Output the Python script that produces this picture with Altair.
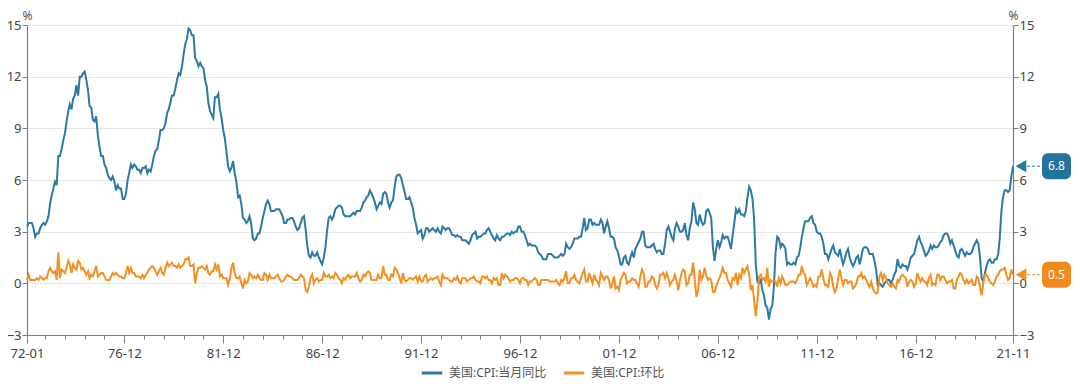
import altair as alt
import pandas as pd

# US CPI year-on-year (%), monthly 1972-01 .. 2021-11
yoy = [
    3.3, 3.5, 3.5, 3.5, 3.2, 2.7, 2.9, 2.9, 3.2, 3.4, 3.5, 3.4,
    3.6, 3.9, 4.6, 5.1, 5.5, 5.9, 5.7, 7.4, 7.4, 7.8, 8.3, 8.7,
    9.4, 10.0, 10.4, 10.1, 10.7, 10.9, 11.5, 10.9, 12.0, 12.0, 12.2, 12.3,
    11.8, 11.2, 10.3, 10.2, 9.5, 9.4, 9.7, 8.6, 7.9, 7.4, 7.4, 6.9,
    6.7, 6.3, 6.1, 6.0, 6.2, 5.9, 5.4, 5.7, 5.5, 5.5, 4.9, 4.9,
    5.2, 6.0, 6.4, 6.9, 6.7, 6.9, 6.8, 6.6, 6.6, 6.4, 6.7, 6.7,
    6.8, 6.4, 6.6, 6.5, 6.9, 7.4, 7.7, 7.8, 8.3, 8.9, 8.9, 9.0,
    9.3, 9.9, 10.1, 10.5, 10.9, 10.9, 11.3, 11.8, 12.2, 12.1, 12.6, 13.3,
    13.9, 14.2, 14.8, 14.7, 14.4, 14.4, 13.1, 12.9, 12.6, 12.8, 12.6, 12.5,
    11.8, 11.4, 10.5, 10.0, 9.8, 9.6, 10.8, 10.8, 11.0, 10.1, 9.6, 8.9,
    8.4, 7.6, 6.8, 6.5, 6.7, 7.1, 6.4, 5.9, 5.0, 5.1, 4.6, 3.8,
    3.7, 3.5, 3.6, 3.9, 3.5, 2.6, 2.5, 2.6, 2.9, 2.9, 3.3, 3.8,
    4.2, 4.6, 4.8, 4.6, 4.2, 4.2, 4.2, 4.3, 4.3, 4.3, 4.1, 3.9,
    3.5, 3.5, 3.7, 3.7, 3.8, 3.8, 3.6, 3.3, 3.1, 3.2, 3.5, 3.8,
    3.9, 3.1, 2.2, 1.6, 1.5, 1.8, 1.6, 1.6, 1.8, 1.5, 1.3, 1.1,
    1.5, 2.1, 3.0, 3.8, 3.9, 3.7, 3.9, 4.3, 4.4, 4.5, 4.5, 4.4,
    4.0, 3.9, 3.9, 3.9, 3.9, 4.0, 4.1, 4.0, 4.2, 4.2, 4.2, 4.4,
    4.7, 4.8, 5.0, 5.1, 5.4, 5.2, 5.0, 4.7, 4.3, 4.5, 4.7, 4.6,
    5.2, 5.3, 5.2, 4.7, 4.4, 4.7, 4.8, 5.6, 6.2, 6.3, 6.3, 6.1,
    5.7, 5.3, 4.9, 4.9, 5.0, 4.7, 4.4, 3.8, 3.4, 2.9, 3.0, 3.1,
    2.6, 2.8, 3.2, 3.2, 3.0, 3.1, 3.2, 3.1, 3.0, 3.2, 3.0, 2.9,
    3.3, 3.2, 3.1, 3.2, 3.2, 3.0, 2.8, 2.8, 2.7, 2.8, 2.7, 2.7,
    2.5, 2.5, 2.5, 2.4, 2.3, 2.5, 2.8, 2.9, 3.0, 2.6, 2.7, 2.7,
    2.8, 2.9, 2.9, 3.1, 3.2, 3.0, 2.8, 2.6, 2.5, 2.8, 2.6, 2.5,
    2.7, 2.7, 2.8, 2.9, 2.9, 2.8, 3.0, 2.9, 3.0, 3.0, 3.3, 3.3,
    3.0, 3.0, 2.8, 2.5, 2.2, 2.3, 2.2, 2.2, 2.2, 2.1, 1.8, 1.7,
    1.6, 1.4, 1.4, 1.4, 1.7, 1.7, 1.7, 1.6, 1.5, 1.5, 1.5, 1.6,
    1.7, 1.6, 1.7, 2.3, 2.1, 2.0, 2.1, 2.3, 2.6, 2.6, 2.6, 2.7,
    2.7, 3.2, 3.8, 3.1, 3.2, 3.7, 3.7, 3.4, 3.5, 3.4, 3.4, 3.4,
    3.7, 3.5, 2.9, 3.3, 3.6, 3.2, 2.7, 2.7, 2.6, 2.1, 1.9, 1.6,
    1.1, 1.1, 1.5, 1.6, 1.2, 1.1, 1.5, 1.8, 1.5, 2.0, 2.2, 2.4,
    2.6, 3.0, 3.0, 2.2, 2.1, 2.1, 2.1, 2.2, 2.3, 2.0, 1.8, 1.9,
    1.9, 1.7, 1.7, 2.3, 3.1, 3.3, 3.0, 2.7, 2.5, 3.2, 3.5, 3.3,
    3.0, 3.0, 3.1, 3.5, 2.8, 2.5, 3.2, 3.6, 4.7, 4.3, 3.5, 3.4,
    4.0, 3.6, 3.4, 3.5, 4.2, 4.3, 4.1, 3.8, 2.1, 1.3, 2.0, 2.5,
    2.1, 2.4, 2.8, 2.6, 2.7, 2.7, 2.4, 2.0, 2.8, 3.5, 4.3, 4.1,
    4.3, 4.0, 4.0, 3.9, 4.2, 5.0, 5.6, 5.4, 4.9, 3.7, 1.1, 0.1,
    0.0, 0.2, -0.4, -0.7, -1.3, -1.4, -2.1, -1.5, -1.3, -0.2, 1.8, 2.7,
    2.6, 2.1, 2.3, 2.2, 2.0, 1.1, 1.2, 1.1, 1.1, 1.2, 1.1, 1.5,
    1.6, 2.1, 2.7, 3.2, 3.6, 3.6, 3.6, 3.8, 3.9, 3.5, 3.4, 3.0,
    2.9, 2.9, 2.7, 2.3, 1.7, 1.7, 1.4, 1.7, 2.0, 2.2, 1.8, 1.7,
    1.6, 2.0, 1.5, 1.1, 1.4, 1.8, 2.0, 1.5, 1.2, 1.0, 1.2, 1.5,
    1.6, 1.1, 1.5, 2.0, 2.1, 2.1, 2.0, 1.7, 1.7, 1.7, 1.3, 0.8,
    -0.1, 0.0, -0.1, -0.2, 0.0, 0.1, 0.2, 0.2, 0.0, 0.2, 0.5, 0.7,
    1.4, 1.0, 0.9, 1.1, 1.0, 1.0, 0.8, 1.1, 1.5, 1.6, 1.7, 2.1,
    2.5, 2.7, 2.4, 2.2, 1.9, 1.6, 1.7, 1.9, 2.2, 2.0, 2.2, 2.1,
    2.1, 2.2, 2.4, 2.5, 2.8, 2.9, 2.9, 2.7, 2.3, 2.5, 2.2, 1.9,
    1.6, 1.5, 1.9, 2.0, 1.8, 1.6, 1.8, 1.7, 1.7, 1.8, 2.1, 2.3,
    2.5, 2.3, 1.5, 0.3, 0.1, 0.6, 1.0, 1.3, 1.4, 1.2, 1.2, 1.4,
    1.4, 1.7, 2.6, 4.2, 5.0, 5.4, 5.4, 5.3, 5.4, 6.2, 6.8,
]

# US CPI month-on-month (%), monthly 1972-01 .. 2021-11
mom = [
    0.2, 0.5, 0.2, 0.2, 0.2, 0.2, 0.3, 0.2, 0.4, 0.3, 0.2, 0.3,
    0.3, 0.7, 0.9, 0.7, 0.6, 0.7, 0.2, 1.8, 0.3, 0.8, 0.7, 0.6,
    0.9, 1.3, 1.1, 0.6, 1.1, 0.9, 0.8, 1.3, 1.2, 0.8, 0.9, 0.7,
    0.5, 0.7, 0.3, 0.5, 0.4, 0.7, 1.0, 0.4, 0.5, 0.6, 0.6, 0.4,
    0.2, 0.2, 0.2, 0.4, 0.6, 0.5, 0.6, 0.5, 0.4, 0.4, 0.3, 0.3,
    0.6, 1.0, 0.6, 0.9, 0.6, 0.6, 0.4, 0.4, 0.4, 0.3, 0.5, 0.3,
    0.5, 0.6, 0.8, 0.9, 1.0, 0.9, 0.7, 0.5, 0.7, 0.9, 0.6, 0.5,
    0.9, 1.2, 1.0, 1.1, 1.2, 1.0, 1.0, 0.9, 1.1, 0.9, 1.0, 1.1,
    1.4, 1.4, 1.5, 1.0, 1.0, 1.1, 0.0, 0.6, 0.9, 0.9, 1.0, 0.9,
    0.8, 1.0, 0.6, 0.5, 0.7, 0.7, 1.1, 0.8, 1.1, 0.4, 0.5, 0.3,
    0.3, 0.3, -0.1, 0.2, 0.9, 1.2, 0.6, 0.3, 0.3, 0.4, 0.0, -0.3,
    0.2, 0.0, 0.1, 0.6, 0.5, 0.3, 0.4, 0.3, 0.5, 0.3, 0.2, 0.2,
    0.6, 0.5, 0.2, 0.5, 0.3, 0.3, 0.3, 0.4, 0.5, 0.3, 0.1, 0.1,
    0.2, 0.4, 0.5, 0.4, 0.4, 0.3, 0.2, 0.2, 0.2, 0.3, 0.5, 0.4,
    0.3, -0.4, -0.5, -0.2, 0.3, 0.5, 0.0, 0.2, 0.3, 0.1, 0.2, 0.2,
    0.6, 0.4, 0.4, 0.5, 0.3, 0.4, 0.3, 0.6, 0.5, 0.3, 0.2, 0.0,
    0.3, 0.2, 0.4, 0.5, 0.3, 0.4, 0.4, 0.4, 0.6, 0.3, 0.1, 0.2,
    0.5, 0.4, 0.6, 0.7, 0.6, 0.2, 0.2, 0.2, 0.2, 0.5, 0.3, 0.3,
    1.0, 0.5, 0.5, 0.2, 0.2, 0.5, 0.4, 0.9, 0.8, 0.6, 0.3, 0.0,
    0.6, 0.2, 0.1, 0.2, 0.3, 0.3, 0.2, 0.3, 0.4, 0.1, 0.4, 0.1,
    0.1, 0.4, 0.5, 0.1, 0.2, 0.3, 0.2, 0.3, 0.3, 0.4, 0.1, -0.1,
    0.5, 0.3, 0.3, 0.3, 0.2, 0.1, 0.1, 0.3, 0.2, 0.4, 0.1, 0.0,
    0.3, 0.3, 0.3, 0.1, 0.2, 0.3, 0.3, 0.4, 0.2, 0.1, 0.1, 0.0,
    0.4, 0.4, 0.3, 0.4, 0.2, 0.2, 0.0, 0.3, 0.2, 0.3, -0.1, -0.1,
    0.6, 0.3, 0.5, 0.4, 0.3, 0.1, 0.2, 0.2, 0.3, 0.3, 0.2, 0.0,
    0.3, 0.3, 0.2, 0.2, -0.1, 0.1, 0.1, 0.2, 0.3, 0.2, -0.1, -0.1,
    0.2, 0.2, 0.2, 0.2, 0.2, 0.1, 0.1, 0.1, 0.1, 0.2, 0.0, -0.1,
    0.2, 0.1, 0.3, 0.7, 0.0, 0.0, 0.3, 0.3, 0.5, 0.2, 0.1, 0.0,
    0.3, 0.6, 0.8, 0.1, 0.1, 0.6, 0.3, 0.0, 0.5, 0.2, 0.1, -0.1,
    0.6, 0.4, 0.2, 0.4, 0.4, 0.2, -0.3, 0.0, 0.4, -0.3, -0.2, -0.4,
    0.2, 0.4, 0.6, 0.5, 0.0, 0.1, 0.1, 0.3, 0.2, 0.2, 0.0, -0.2,
    0.4, 0.8, 0.6, -0.2, -0.2, 0.1, 0.1, 0.4, 0.3, -0.1, -0.3, -0.1,
    0.5, 0.5, 0.6, 0.3, 0.6, 0.3, -0.1, 0.1, 0.2, 0.5, 0.1, -0.4,
    0.2, 0.6, 0.8, 0.7, -0.1, 0.0, 0.5, 0.5, 1.2, 0.2, -0.8, -0.4,
    0.8, 0.2, 0.4, 0.9, 0.5, 0.2, 0.3, 0.2, -0.5, -0.5, -0.2, 0.1,
    0.3, 0.6, 0.9, 0.6, 0.6, 0.2, 0.0, -0.2, 0.3, 0.2, 0.6, -0.1,
    0.5, 0.3, 0.9, 0.6, 0.8, 1.0, 0.5, -0.4, -0.1, -1.0, -1.9, -1.0,
    0.4, 0.5, 0.2, 0.3, 0.1, 0.9, -0.2, 0.2, 0.1, 0.1, 0.1, -0.2,
    0.3, 0.0, 0.4, 0.2, -0.1, -0.1, 0.0, 0.1, 0.1, 0.1, 0.0, 0.2,
    0.5, 0.5, 1.0, 0.6, 0.5, -0.1, 0.1, 0.3, 0.1, -0.2, -0.1, -0.2,
    0.4, 0.4, 0.8, 0.3, -0.1, -0.1, -0.2, 0.6, 0.4, -0.2, -0.5, -0.3,
    0.3, 0.8, 0.3, -0.1, 0.2, 0.2, 0.0, 0.1, 0.1, -0.3, -0.2, 0.0,
    0.4, 0.4, 0.6, 0.3, 0.4, 0.2, 0.0, -0.2, 0.1, -0.3, -0.5, -0.6,
    -0.5, 0.4, 0.6, 0.2, 0.5, 0.3, 0.0, -0.1, -0.2, 0.0, -0.2, -0.3,
    0.2, 0.1, 0.4, 0.5, 0.4, 0.3, -0.2, 0.1, 0.2, 0.1, -0.2, 0.0,
    0.6, 0.3, 0.1, 0.3, 0.1, 0.1, -0.1, 0.3, 0.5, -0.1, 0.0, -0.1,
    0.5, 0.5, 0.2, 0.4, 0.4, 0.2, 0.0, 0.1, 0.1, 0.2, -0.3, -0.3,
    0.2, 0.4, 0.6, 0.5, 0.2, 0.0, 0.2, 0.0, 0.1, 0.2, -0.1, -0.1,
    0.4, 0.3, -0.2, -0.7, 0.0, 0.5, 0.5, 0.3, 0.1, 0.0, -0.1, 0.1,
    0.4, 0.5, 0.7, 0.8, 0.8, 0.9, 0.5, 0.2, 0.3, 0.8, 0.5,
]

series_names = ["美国:CPI:当月同比", "美国:CPI:环比"]
colors = ["#2b7aa6", "#f39021"]
box_colors = ["#24729e", "#f28a1c"]
start_month = "1972-01-01"
y_ticks = [-3, 0, 3, 6, 9, 12, 15]
major_labels = ["1972-01", "1976-12", "1981-12", "1986-12", "1991-12", "1996-12",
                "2001-12", "2006-12", "2011-12", "2016-12", "2021-11"]

dates = pd.date_range(start_month, periods=len(yoy), freq="MS")
df_yoy = pd.DataFrame({"date": dates, "value": yoy, "series": series_names[0]})
df_mom = pd.DataFrame({"date": dates, "value": mom, "series": series_names[1]})


def dt(s):
    y, m = s.split("-")
    return alt.DateTime(year=int(y), month=int(m), date=1)


major_vals = [dt(s) for s in major_labels]
minor_vals = [alt.DateTime(year=y, month=12, date=1) for y in range(1972, 2021)]
minor_vals = [dt("1972-01")] + minor_vals + [dt("2021-11")]

x_domain = [dt("1972-01"), dt("2021-11")]
xscale = alt.Scale(domain=x_domain)
yscale = alt.Scale(domain=[-3, 15], nice=False, zero=False)
cscale = alt.Scale(domain=series_names, range=colors)

legend = alt.Legend(
    title=None, orient="none", direction="horizontal", legendX=393, legendY=336,
    symbolType="stroke", symbolSize=420, symbolStrokeWidth=3, labelFontSize=12,
    labelColor="#555555", columnPadding=10, labelOffset=5,
)

axis_common = dict(domainColor="#7f7f7f", tickColor="#7f7f7f", labelColor="#444444",
                   labelFontSize=13, domainWidth=1.2)
title_common = dict(title="%", titleAngle=0, titleY=-10, titleAlign="center",
                    titleBaseline="middle", titleFontWeight="normal", titleFontSize=12,
                    titleColor="#555555")

blue = alt.Chart(df_yoy).mark_line(strokeWidth=2).encode(
    x=alt.X("date:T", scale=xscale,
            axis=alt.Axis(orient="bottom", values=major_vals, format="%y-%m", tickSize=8,
                          labelPadding=4, grid=False, title=None, labelFlush=False,
                          labelOverlap=False, **axis_common)),
    y=alt.Y("value:Q", scale=yscale,
            axis=alt.Axis(orient="left", values=y_ticks, tickSize=5, labelPadding=1,
                          grid=True, gridColor="#e6e6e6", titleX=0, labelFlush=False,
                          **title_common, **axis_common)),
    color=alt.Color("series:N", scale=cscale, legend=legend),
)

orange = alt.Chart(df_mom).mark_line(strokeWidth=2).encode(
    x=alt.X("date:T", scale=xscale,
            axis=alt.Axis(orient="bottom", values=minor_vals, labels=False, tickSize=4,
                          grid=False, title=None, domain=False, tickColor="#7f7f7f")),
    y=alt.Y("value:Q", scale=yscale,
            axis=alt.Axis(orient="right", values=y_ticks, tickSize=5, labelPadding=1,
                          grid=False, titleX=0, labelFlush=False,
                          **title_common, **axis_common)),
    color=alt.Color("series:N", scale=cscale, legend=legend),
)

last = pd.DataFrame({
    "date": [dates[-1], dates[-1]],
    "value": [yoy[-1], mom[-1]],
    "label": [f"{yoy[-1]:.1f}", f"{mom[-1]:.1f}"],
})

ann_layers = []
for i in range(2):
    d = last.iloc[[i]]
    base = alt.Chart(d).encode(
        x=alt.X("date:T", scale=xscale, axis=None),
        y=alt.Y("value:Q", scale=yscale, axis=None),
    )
    ann_layers.append(base.mark_rule(xOffset=14, x2Offset=29, strokeDash=[3, 2],
                                     strokeWidth=1, color=colors[i]).encode(x2="date:T"))
    ann_layers.append(base.mark_point(shape="triangle-left", filled=True, size=150,
                                      opacity=1, xOffset=8, color=colors[i]))
    ann_layers.append(base.mark_rect(xOffset=29, x2Offset=58, yOffset=-13, y2Offset=13,
                                     cornerRadius=6, color=box_colors[i])
                      .encode(x2="date:T", y2="value:Q"))
    ann_layers.append(base.mark_text(dx=43.5, color="white", fontSize=12, align="center",
                                     baseline="middle").encode(text="label:N"))

chart = alt.layer(blue, orange, *ann_layers).resolve_axis(
    x="independent", y="independent"
).resolve_scale(x="shared", y="shared").properties(
    width=986, height=310,
    autosize=alt.AutoSizeParams(type="none"),
    padding={"left": 19, "top": 17, "right": 59, "bottom": 47},
).configure(font="Noto Sans, Noto Sans CJK SC, sans-serif").configure_view(stroke=None)

chart.save("out.html", embed_options={"renderer": "svg", "actions": False})
